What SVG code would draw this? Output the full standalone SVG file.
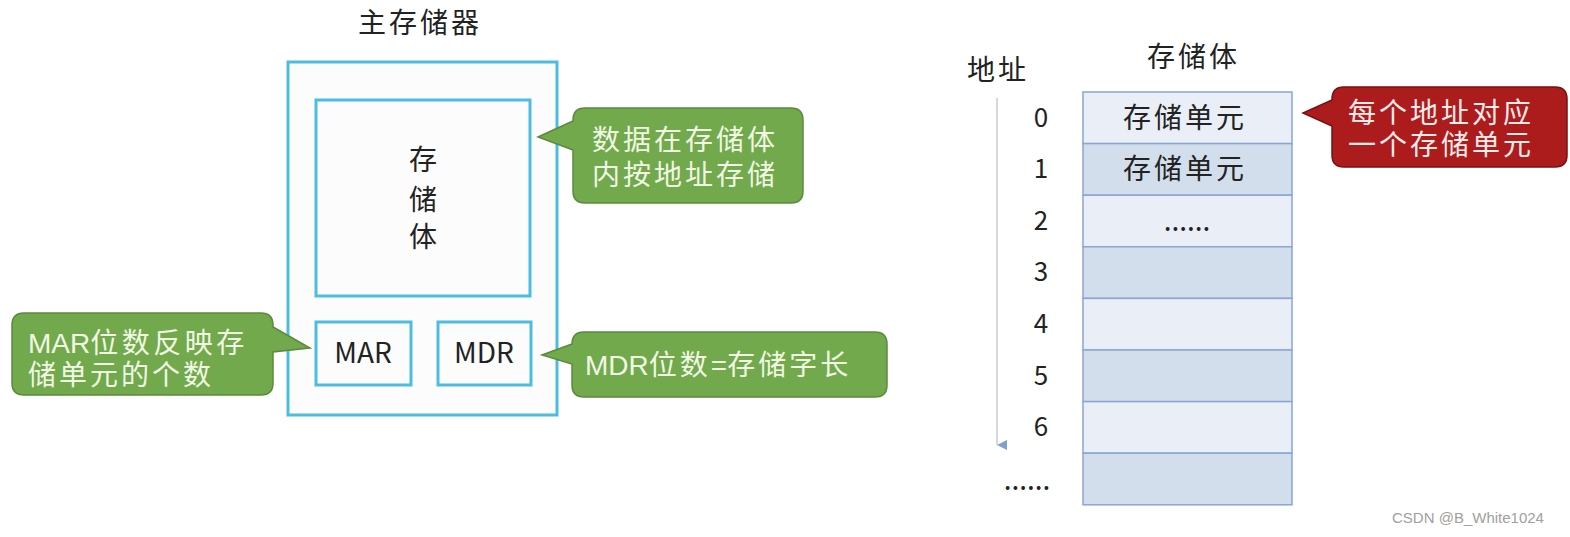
<svg xmlns="http://www.w3.org/2000/svg" width="1570" height="537" viewBox="0 0 1570 537">
<defs>
<style>
.t{font-family:"Noto Sans CJK SC","Noto Sans",sans-serif;font-size:28px;fill:#222;}
.ct{font-family:"Liberation Sans","Noto Sans CJK SC",sans-serif;font-size:28px;}
.cj{letter-spacing:3px;}
.la{letter-spacing:0px;}
.box{fill:#fcfcfd;stroke:#4cbde0;stroke-width:3;}
.gc{fill:#71a94c;stroke:#5b8a3b;stroke-width:1.5;}
.gt{fill:#f1f8e4;}
.rc{fill:#ad1c1c;stroke:#7a1010;stroke-width:1.5;}
.rt{fill:#fbecec;}
.rowa{fill:#e9eef7;stroke:#8aa6d2;stroke-width:1.5;}
.rowb{fill:#d3deed;stroke:#8aa6d2;stroke-width:1.5;}
.num{text-anchor:middle;font-size:26px;}
</style>
<marker id="ah" viewBox="0 0 10 10" refX="5" refY="10" markerWidth="10" markerHeight="10" markerUnits="userSpaceOnUse" orient="auto-start-reverse">
<path d="M0,0 L10,0 L5,10 Z" fill="#7f9fcf"/>
</marker>
</defs>
<rect width="1570" height="537" fill="#ffffff"/>

<g id="main-memory">
<text class="t cj" x="358" y="33">主存储器</text>
<rect class="box" x="288" y="62" width="269" height="353"/>
</g>
<g id="storage-body">
<rect class="box" x="316" y="100" width="214" height="196"/>
<text class="t" text-anchor="middle" x="423" y="170">存</text>
<text class="t" text-anchor="middle" x="423" y="210">储</text>
<text class="t" text-anchor="middle" x="423" y="247">体</text>
</g>
<g id="mar">
<rect class="box" x="316" y="322" width="95" height="63"/>
<text class="t" text-anchor="middle" x="363" y="363">MAR</text>
</g>
<g id="mdr">
<rect class="box" x="438" y="322" width="93" height="63"/>
<text class="t" text-anchor="middle" x="484" y="363">MDR</text>
</g>

<g id="callout-storage">
<path class="gc" d="M585,108 H791 Q803,108 803,120 V191 Q803,203 791,203 H585 Q573,203 573,191 V150 L538,137 L573,121 V120 Q573,108 585,108 Z"/>
<text class="ct cj gt" x="592" y="150">数据在存储体</text>
<text class="ct cj gt" x="592" y="185">内按地址存储</text>
</g>
<g id="callout-mdr">
<path class="gc" d="M584,332 H875 Q887,332 887,344 V385 Q887,397 875,397 H584 Q572,397 572,385 V364 L542,355 L572,344 Q572,332 584,332 Z"/>
<text class="ct gt" x="585" y="375"><tspan class="la">MDR</tspan><tspan class="cj">位数</tspan><tspan class="la">=</tspan><tspan class="cj">存储字长</tspan></text>
</g>
<g id="callout-mar">
<path class="gc" d="M24,313 H261 Q273,313 273,325 V327 L310,348 L273,352 V383 Q273,395 261,395 H24 Q12,395 12,383 V325 Q12,313 24,313 Z"/>
<text class="ct gt" x="28" y="353"><tspan class="la">MAR</tspan><tspan style="letter-spacing:3.5px">位数反映存</tspan></text>
<text class="ct cj gt" x="28" y="385">储单元的个数</text>
</g>

<g id="address-label">
<text class="t cj" x="967" y="80">地址</text>
</g>
<g id="storage-title">
<text class="t cj" x="1147" y="67">存储体</text>
</g>
<g id="storage-table">
<rect class="rowa" x="1083" y="92" width="209" height="51.6"/>
<rect class="rowb" x="1083" y="143.6" width="209" height="51.6"/>
<rect class="rowa" x="1083" y="195.2" width="209" height="51.6"/>
<rect class="rowb" x="1083" y="246.8" width="209" height="51.6"/>
<rect class="rowa" x="1083" y="298.4" width="209" height="51.6"/>
<rect class="rowb" x="1083" y="350" width="209" height="51.6"/>
<rect class="rowa" x="1083" y="401.6" width="209" height="51.6"/>
<rect class="rowb" x="1083" y="453.2" width="209" height="51.6"/>
<text class="t cj" x="1123" y="128">存储单元</text>
<text class="t cj" x="1123" y="179">存储单元</text>
<text class="t" text-anchor="middle" x="1187" y="231" font-size="22">......</text>
</g>
<g id="addresses">
<text class="t num" x="1041" y="127">0</text>
<text class="t num" x="1041" y="178">1</text>
<text class="t num" x="1041" y="230">2</text>
<text class="t num" x="1041" y="281">3</text>
<text class="t num" x="1041" y="333">4</text>
<text class="t num" x="1041" y="385">5</text>
<text class="t num" x="1041" y="436">6</text>
<text class="t" text-anchor="middle" x="1027" y="490" font-size="22">......</text>
</g>
<g id="callout-red">
<path class="rc" d="M1344,87 H1555 Q1567,87 1567,99 V155 Q1567,167 1555,167 H1344 Q1332,167 1332,155 V126 L1303,113 L1332,100 V99 Q1332,87 1344,87 Z"/>
<text class="ct cj rt" x="1348" y="123">每个地址对应</text>
<text class="ct cj rt" x="1348" y="155">一个存储单元</text>
</g>

<g id="connectors">
<line x1="997" y1="98" x2="997" y2="445" stroke="#c4ccda" stroke-width="1.5" marker-end="url(#ah)"/>
</g>

<text x="1392" y="523" font-family="Liberation Sans, sans-serif" font-size="15" fill="#a0a0a0">CSDN @B_White1024</text>
</svg>
